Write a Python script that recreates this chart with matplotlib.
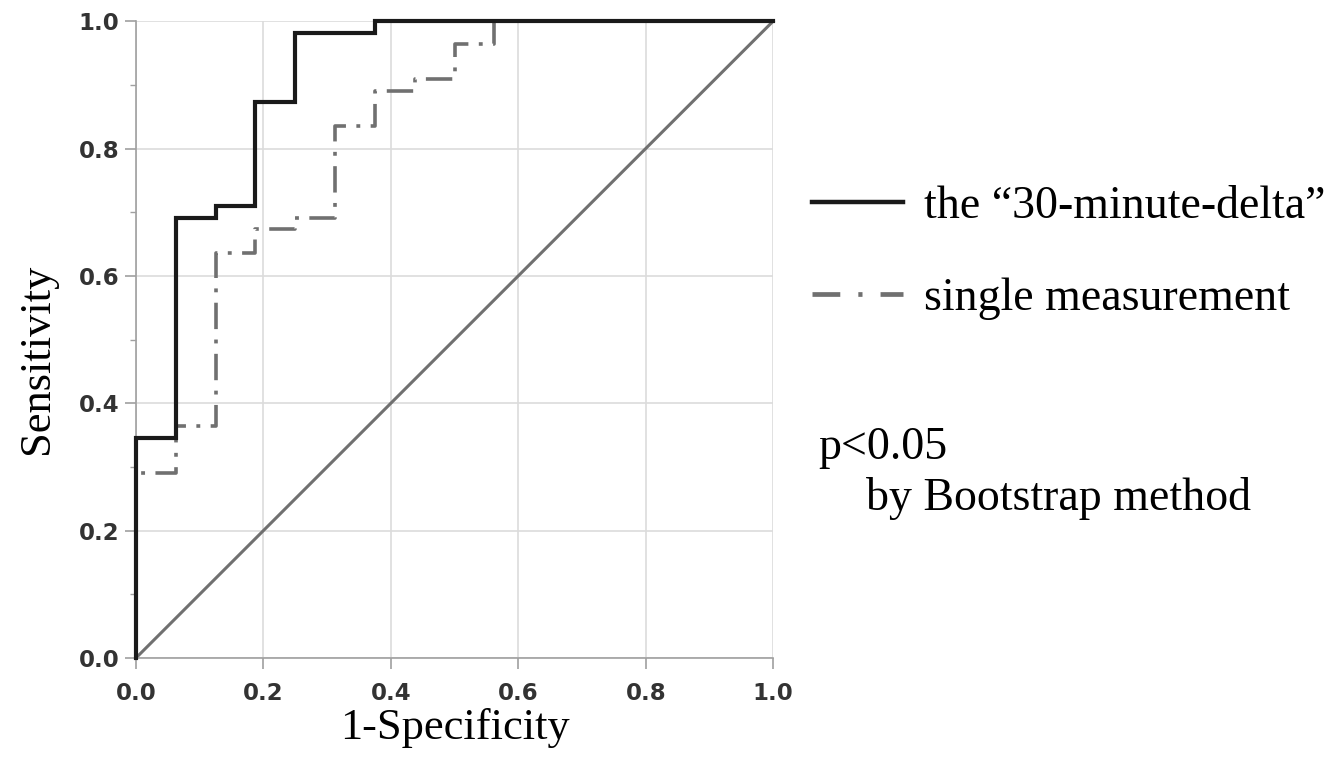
import matplotlib
matplotlib.use("Agg")
import matplotlib.pyplot as plt
from matplotlib.lines import Line2D
from matplotlib.ticker import MultipleLocator

# ROC corner points
fpr_delta = [0.0, 0.0, 0.0625, 0.0625, 0.125, 0.125, 0.1875, 0.1875, 0.25, 0.25, 0.375, 0.375, 1.0]
tpr_delta = [0.0, 0.345, 0.345, 0.691, 0.691, 0.709, 0.709, 0.873, 0.873, 0.982, 0.982, 1.0, 1.0]

fpr_single = [0.0, 0.0, 0.0625, 0.0625, 0.125, 0.125, 0.1875, 0.1875, 0.25, 0.25, 0.3125, 0.3125,
              0.375, 0.375, 0.4375, 0.4375, 0.5, 0.5, 0.5625, 0.5625, 1.0]
tpr_single = [0.0, 0.291, 0.291, 0.364, 0.364, 0.636, 0.636, 0.673, 0.673, 0.691, 0.691, 0.836,
              0.836, 0.891, 0.891, 0.909, 0.909, 0.964, 0.964, 1.0, 1.0]

ref_line = [0.0, 1.0]
ticks = [0.0, 0.2, 0.4, 0.6, 0.8, 1.0]
tick_labels = ["0.0", "0.2", "0.4", "0.6", "0.8", "1.0"]

serif = "Liberation Serif"
gray = "#707070"
dashdot = (0, (19, 7.5, 2.8, 7.5))

plt.rcParams["lines.scale_dashes"] = False

fig = plt.figure(figsize=(13.33, 7.7), dpi=100)
ax = fig.add_axes([0.102, 0.1455, 0.478, 0.827])

ax.plot(ref_line, ref_line, color=gray, lw=2.2, zorder=2, clip_on=False)
ln_single, = ax.plot(fpr_single, tpr_single, color=gray, lw=2.6, linestyle=dashdot,
                     dash_capstyle="butt", zorder=3, clip_on=False)
ln_delta, = ax.plot(fpr_delta, tpr_delta, color="#1a1a1a", lw=3.0, zorder=4, clip_on=False,
                    solid_joinstyle="miter")

ax.set_xlim(0, 1)
ax.set_ylim(0, 1)
ax.set_xticks(ticks)
ax.set_xticklabels(tick_labels)
ax.set_yticks(ticks)
ax.set_yticklabels(tick_labels)
ax.yaxis.set_minor_locator(MultipleLocator(0.1))
ax.grid(True, color="#dcdcdc", lw=1.2)
ax.set_axisbelow(True)
for s in ["top", "right"]:
    ax.spines[s].set_visible(False)
for s in ["left", "bottom"]:
    ax.spines[s].set_color("#a0a0a0")
    ax.spines[s].set_linewidth(1.2)
ax.tick_params(axis="both", which="major", length=8, width=1.2, color="#a0a0a0",
               labelsize=16.5, labelcolor="#333333")
ax.tick_params(axis="x", which="major", pad=9)
ax.tick_params(axis="y", which="major", pad=4)
ax.tick_params(axis="y", which="minor", length=4, width=1.0, color="#a0a0a0")
for lab in ax.get_xticklabels() + ax.get_yticklabels():
    lab.set_fontweight("bold")

ax.set_xlabel("1-Specificity", fontfamily=serif, fontsize=32)
ax.set_ylabel("Sensitivity", fontfamily=serif, fontsize=32)
ax.xaxis.set_label_coords(0.5, -0.078)
ax.yaxis.set_label_coords(-0.124, 0.47)

# legend built from the plotted lines
h_delta = Line2D([], [], color="#1a1a1a", lw=3.2)
h_single = Line2D([], [], color=gray, lw=3.4, linestyle=(0, (20, 13, 3, 13)), dash_capstyle="butt")
fig.legend([h_delta, h_single], ["the \u201c30-minute-delta\u201d", "single measurement"],
           loc="center left", bbox_to_anchor=(0.609, 0.6715), frameon=False,
           prop={"family": serif, "size": 33}, handlelength=2.0, handletextpad=0.45,
           labelspacing=1.07, borderpad=0, borderaxespad=0)

fig.text(0.614, 1 - 448 / 770, "p<0.05", fontfamily=serif, fontsize=33, va="center", ha="left")
fig.text(0.650, 1 - 499 / 770, "by Bootstrap method", fontfamily=serif, fontsize=33,
         va="center", ha="left")

fig.savefig("out.png", dpi=100)
